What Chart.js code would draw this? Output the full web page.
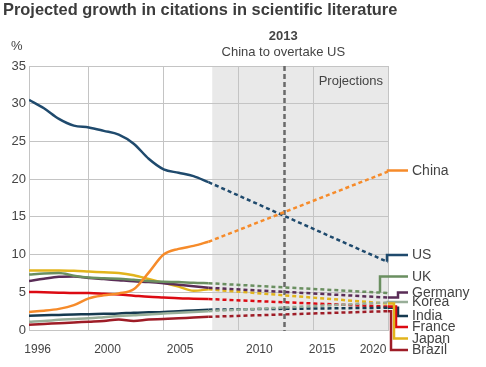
<!DOCTYPE html>
<html><head><meta charset="utf-8">
<script src="https://cdn.jsdelivr.net/npm/chart.js@4.4.0/dist/chart.umd.min.js"></script>
<style>html,body{margin:0;padding:0;background:#fff;}</style>
</head><body>
<canvas id="c" width="486" height="367"></canvas>
<script>
// ---- data ----
const years = [1996,1997,1998,1999,2000,2001,2002,2003,2004,2005,2006,2007,2008];
const projectionYear = 2020;
const markerYear = 2013;
const shadeStartYear = 2008.25;

const china   = [2.4, 2.55, 2.8, 3.3, 4.2, 4.6, 4.85, 5.4, 7.6, 10.0, 10.75, 11.15, 11.7];
const us      = [30.5, 29.4, 28.0, 27.1, 26.85, 26.4, 25.9, 24.7, 22.7, 21.3, 20.85, 20.4, 19.6];
const uk      = [7.35, 7.5, 7.55, 7.2, 6.95, 6.85, 6.8, 6.65, 6.5, 6.4, 6.35, 6.25, 6.2];
const germany = [6.5, 6.8, 7.05, 7.1, 6.9, 6.75, 6.6, 6.45, 6.35, 6.2, 6.0, 5.8, 5.6];
const korea   = [1.1, 1.2, 1.35, 1.45, 1.55, 1.7, 1.85, 1.95, 2.05, 2.2, 2.3, 2.4, 2.5];
const india   = [1.9, 1.95, 2.0, 2.05, 2.1, 2.15, 2.2, 2.3, 2.35, 2.4, 2.5, 2.6, 2.7];
const france  = [5.05, 5.0, 4.95, 4.9, 4.9, 4.8, 4.7, 4.55, 4.4, 4.3, 4.2, 4.15, 4.1];
const japan   = [7.9, 7.9, 7.9, 7.85, 7.75, 7.65, 7.55, 7.25, 6.75, 6.25, 5.75, 5.2, 5.4];
const brazil  = [0.7, 0.8, 0.9, 1.0, 1.1, 1.2, 1.4, 1.2, 1.4, 1.45, 1.55, 1.65, 1.75];

const projected2020 = {China: 21.0, US: 9.0, UK: 4.9, Germany: 4.3, Korea: 3.65, India: 2.95, France: 3.1, Japan: 3.5, Brazil: 2.5};

const xGridYears = [1996, 2000, 2005, 2010, 2015, 2020];
const xTickLabels = ['1996', '2000', '2005', '2010', '2015', '2020'];
const yTickValues = [0, 5, 10, 15, 20, 25, 30, 35];

// ---- style ----
const xLabelPos = [1996.58, 2001.25, 2006.1, 2011.4, 2015.6, 2019.0];
const series = [
  {name: 'China',   values: china,   color: '#f68b2a', elbow: 0,  labelY: 170.5},
  {name: 'US',      values: us,      color: '#1f4a6d', elbow: -1, labelY: 255},
  {name: 'UK',      values: uk,      color: '#6a8f60', elbow: -8, labelY: 276.5},
  {name: 'Germany', values: germany, color: '#5a2d57', elbow: 10, labelY: 292.5},
  {name: 'Korea',   values: korea,   color: '#98ae98', elbow: 0,  labelY: 302},
  {name: 'India',   values: india,   color: '#163a50', elbow: 10, labelY: 316},
  {name: 'France',  values: france,  color: '#dc0a12', elbow: 8,  labelY: 327},
  {name: 'Japan',   values: japan,   color: '#e2b41c', elbow: 6,  labelY: 338.5},
  {name: 'Brazil',  values: brazil,  color: '#9e1c26', elbow: 3,  labelY: 350}
];
const FONT = '"Liberation Sans", Arial, Helvetica, sans-serif';
const TEXT = '#444';
const GRID = '#c4c4c4';

const datasets = [];
series.forEach(s => {
  datasets.push({
    label: s.name,
    data: years.map((yr, i) => ({x: yr, y: s.values[i]})),
    borderColor: s.color, borderWidth: 2.5, pointRadius: 0,
    cubicInterpolationMode: 'monotone', fill: false
  });
});
series.forEach(s => {
  const last = years.length - 1;
  datasets.push({
    label: s.name + ' projection',
    data: [{x: years[last], y: s.values[last]}, {x: projectionYear, y: projected2020[s.name]}],
    borderColor: s.color, borderWidth: 2.5, pointRadius: 0, borderDash: [4, 3],
    tension: 0, fill: false
  });
});

const overlay = {
  id: 'overlay',
  beforeDraw(chart) {
    const {ctx, chartArea: a, scales: {x}} = chart;
    const sx = x.getPixelForValue(shadeStartYear);
    ctx.save();
    ctx.fillStyle = '#e9e9e9';
    ctx.fillRect(sx, a.top, a.right - sx, a.bottom - a.top);
    ctx.restore();
  },
  beforeDatasetsDraw(chart) {
    const {ctx, chartArea: a, scales: {x}} = chart;
    const mx = Math.round(x.getPixelForValue(markerYear)) + 1.5;
    ctx.save();
    ctx.strokeStyle = '#6a6a6a';
    ctx.lineWidth = 2.5;
    ctx.setLineDash([5, 3]);
    ctx.beginPath();
    ctx.moveTo(mx, a.top);
    ctx.lineTo(mx, a.bottom + 1);
    ctx.stroke();
    ctx.restore();
  },
  afterDatasetsDraw(chart) {
    const {ctx, chartArea: a, scales: {x, y}} = chart;
    const last = years.length - 1;
    const labelLineEnd = a.right + 20;
    ctx.save();
    ctx.lineWidth = 2.5;
    ctx.lineJoin = 'miter';
    series.forEach(s => {
      const x0 = x.getPixelForValue(years[last]), y0 = y.getPixelForValue(s.values[last]);
      const x1 = x.getPixelForValue(projectionYear), y1 = y.getPixelForValue(projected2020[s.name]);
      const ex = a.right + s.elbow;
      let sxp, syp;
      if (ex < x1) { sxp = ex; syp = y0 + (y1 - y0) * (ex - x0) / (x1 - x0); }
      else { sxp = x1; syp = y1; }
      ctx.strokeStyle = s.color;
      ctx.beginPath();
      ctx.moveTo(sxp, syp);
      ctx.lineTo(ex, syp);
      ctx.lineTo(ex, s.labelY);
      ctx.lineTo(labelLineEnd, s.labelY);
      ctx.stroke();
      ctx.fillStyle = TEXT;
      ctx.font = '14px ' + FONT;
      ctx.textBaseline = 'middle';
      ctx.textAlign = 'left';
      ctx.fillText(s.name, labelLineEnd + 4, s.labelY + 0.5);
    });
    ctx.restore();
  },
  afterDraw(chart) {
    const {ctx, chartArea: a, scales: {x}} = chart;
    const mx = x.getPixelForValue(markerYear);
    ctx.save();
    ctx.textBaseline = 'alphabetic';
    ctx.fillStyle = '#3c3c3c';
    ctx.font = 'bold 16.4px ' + FONT;
    ctx.textAlign = 'left';
    ctx.fillText('Projected growth in citations in scientific literature', 3, 15);
    ctx.fillStyle = TEXT;
    ctx.font = 'bold 13px ' + FONT;
    ctx.textAlign = 'center';
    ctx.fillText('2013', mx, 40);
    ctx.font = '13px ' + FONT;
    ctx.fillText('China to overtake US', mx, 55.5);
    ctx.textAlign = 'left';
    ctx.fillText('%', 11, 50);
    ctx.textAlign = 'right';
    ctx.fillText('Projections', a.right - 5, 85);
    ctx.restore();
  }
};

new Chart(document.getElementById('c'), {
  type: 'line',
  data: {datasets},
  options: {
    responsive: false, animation: false, events: [],
    layout: {padding: {top: 66, right: 98, bottom: 0, left: 0}},
    plugins: {legend: {display: false}, tooltip: {enabled: false}, title: {display: false}},
    scales: {
      x: {
        type: 'linear', min: 1996, max: 2020, position: 'bottom',
        afterBuildTicks: s => { s.ticks = xGridYears.map(v => ({value: v})); },
        ticks: {display: false},
        grid: {color: GRID, drawTicks: false, lineWidth: 1},
        border: {display: true, color: GRID},
        afterFit: s => { s.height = 0; }
      },
      xl: {
        type: 'linear', min: 1996, max: 2020, position: 'bottom',
        afterBuildTicks: s => { s.ticks = xLabelPos.map(v => ({value: v})); },
        ticks: {autoSkip: false, maxRotation: 0, padding: 4, color: TEXT,
                font: {family: FONT, size: 12},
                callback: (v, i) => xTickLabels[i]},
        grid: {display: false},
        border: {display: false},
        afterFit: s => { s.height = 37; }
      },
      y: {
        type: 'linear', min: 0, max: 35,
        afterBuildTicks: s => { s.ticks = yTickValues.map(v => ({value: v})); },
        ticks: {padding: 3, color: TEXT, font: {family: FONT, size: 13}},
        grid: {color: GRID, drawTicks: false, lineWidth: 1},
        border: {display: true, color: GRID},
        afterFit: s => { s.width = 29; }
      }
    }
  },
  plugins: [overlay]
});
</script>
</body></html>
